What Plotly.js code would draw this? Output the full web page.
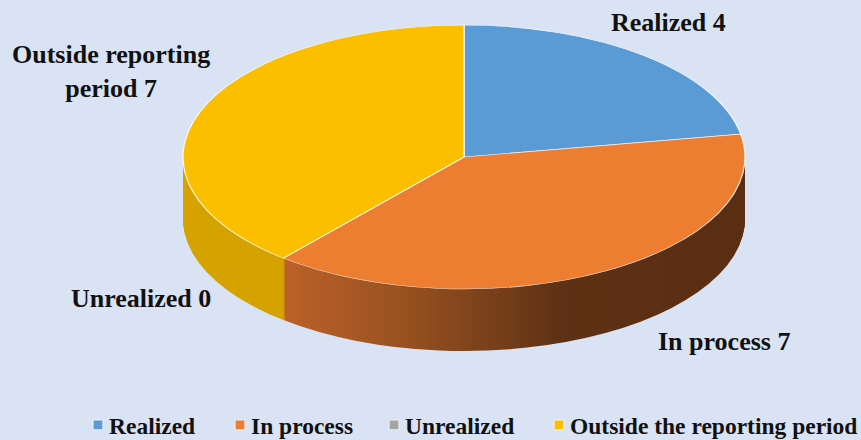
<!DOCTYPE html>
<html>
<head>
<meta charset="utf-8">
<script src="https://cdn.plot.ly/plotly-3.0.1.min.js"></script>
<style>
  html, body { margin: 0; padding: 0; background: #dae3f3; }
  #chart { width: 861px; height: 440px; }
</style>
</head>
<body>
<div id="chart"></div>
<script>
// ---- data ----
const categories = ['Realized', 'In process', 'Unrealized', 'Outside the reporting period'];
const values = [4, 7, 0, 7];
const labelTexts = ['Realized 4', 'In process 7', 'Unrealized 0', 'Outside reporting<br>period 7'];

// ---- styles / positions ----
const topColors = ['#5b9bd5', '#ed7d31', '#a5a5a5', '#fbbf00'];
const sideColors = ['#3d6f9e', '#a65523', '#7b7b7b', '#d5a300'];
const labelPos = [[668, 22.5], [724, 347], [141, 303], [111, 73]]; // pixel centers
const legendTextStarts = [109, 251, 405, 570];
const LEGEND_BASELINE = 434;
const W = 861, H = 440;
const CX = 464, CY = 157, RX = 281, RY = 132, DEPTH = 62;

const font = { family: 'Liberation Serif, Times New Roman, serif', weight: 'bold', color: '#111111' };

const traces = [];
for (let d = DEPTH; d >= 1; d--) {
  traces.push({
    type: 'pie', labels: categories, values: values, sort: false,
    direction: 'clockwise', rotation: 0,
    marker: { colors: sideColors, line: { width: 0 } },
    textinfo: 'none', hoverinfo: 'skip', showlegend: false
  });
}
traces.push({
  type: 'pie', labels: categories, values: values, sort: false,
  direction: 'clockwise', rotation: 0,
  marker: { colors: topColors, line: { color: 'rgba(255,255,255,0.85)', width: 1 } },
  textinfo: 'none', hoverinfo: 'skip', showlegend: true
});

const annotations = labelTexts.map((t, i) => ({
  text: t, xref: 'paper', yref: 'paper',
  x: labelPos[i][0] / W, y: 1 - labelPos[i][1] / H,
  xanchor: 'center', yanchor: 'middle', showarrow: false, align: 'center',
  font: Object.assign({ size: 26 }, font)
}));

const layout = {
  width: W, height: H,
  margin: { l: 0, r: 0, t: 0, b: 0 },
  paper_bgcolor: '#dae3f3',
  hovermode: false,
  showlegend: true,
  legend: {
    orientation: 'h', x: 77 / W, xanchor: 'left', y: 15 / H, yanchor: 'middle',
    bgcolor: 'rgba(0,0,0,0)', font: Object.assign({ size: 23.5 }, font)
  },
  annotations: annotations
};

const gd = document.getElementById('chart');
Plotly.newPlot(gd, traces, layout, { staticPlot: true, displayModeBar: false }).then(() => {
  const NS = 'http://www.w3.org/2000/svg';
  const svg = gd.querySelector('svg.main-svg');
  const defs = document.createElementNS(NS, 'defs');
  const grad = document.createElementNS(NS, 'linearGradient');
  grad.setAttribute('id', 'sideGradOrange');
  grad.setAttribute('x1', '0'); grad.setAttribute('x2', '1');
  grad.setAttribute('y1', '0'); grad.setAttribute('y2', '0');
  [[0, '#bd6129'], [0.25, '#9a5220'], [0.45, '#78401a'], [0.6, '#5e3115'], [1, '#5a2e13']].forEach(s => {
    const st = document.createElementNS(NS, 'stop');
    st.setAttribute('offset', s[0]); st.setAttribute('stop-color', s[1]);
    grad.appendChild(st);
  });
  defs.appendChild(grad);
  svg.insertBefore(defs, svg.firstChild);

  // flatten the pie into a tilted disc with depth
  const groups = gd.querySelectorAll('.pielayer > g.trace');
  groups.forEach((g, j) => {
    const cd0 = (gd.calcdata && gd.calcdata[j] && gd.calcdata[j][0]) || {};
    const r = cd0.r || Math.min(W, H) / 2;
    const cx = cd0.cx || W / 2;
    const cy = cd0.cy || H / 2;
    const off = j < DEPTH ? DEPTH - j : 0;
    g.setAttribute('transform',
      'translate(' + CX + ',' + (CY + off) + ') scale(' + (RX / r) + ',' + (RY / r) + ') translate(' + (-cx) + ',' + (-cy) + ')');
    if (off > 0) {
      g.querySelectorAll('g.slice').forEach(s => {
        const pt = s.__data__;
        if (pt && pt.i === 1) {
          const p = s.querySelector('path.surface');
          if (p) p.style.fill = 'url(#sideGradOrange)';
        }
      });
    }
  });

  // legend spacing like the original
  const sb = gd.querySelector('.legend .scrollbox');
  if (sb) sb.removeAttribute('clip-path');
  const svgRect = svg.getBoundingClientRect();
  const fs = 23.5;
  gd.querySelectorAll('.legend g.traces').forEach((it, k) => {
    if (k >= legendTextStarts.length) return;
    const txt = it.querySelector('text.legendtext');
    if (!txt) return;
    const rect = txt.getBoundingClientRect();
    const dx = legendTextStarts[k] - (rect.left - svgRect.left);
    const dy = (LEGEND_BASELINE - 0.891 * fs) - (rect.top - svgRect.top);
    const m = /translate\(\s*([-\d.e]+)[ ,]+([-\d.e]+)\s*\)/.exec(it.getAttribute('transform') || '');
    const tx = m ? +m[1] : 0, ty = m ? +m[2] : 0;
    it.setAttribute('transform', 'translate(' + (tx + dx) + ',' + (ty + dy) + ')');
    const pts = it.querySelector('g.legendpoints');
    if (pts) pts.setAttribute('transform', 'translate(29,0) scale(0.8) translate(-20,0)');
  });
});
</script>
</body>
</html>
